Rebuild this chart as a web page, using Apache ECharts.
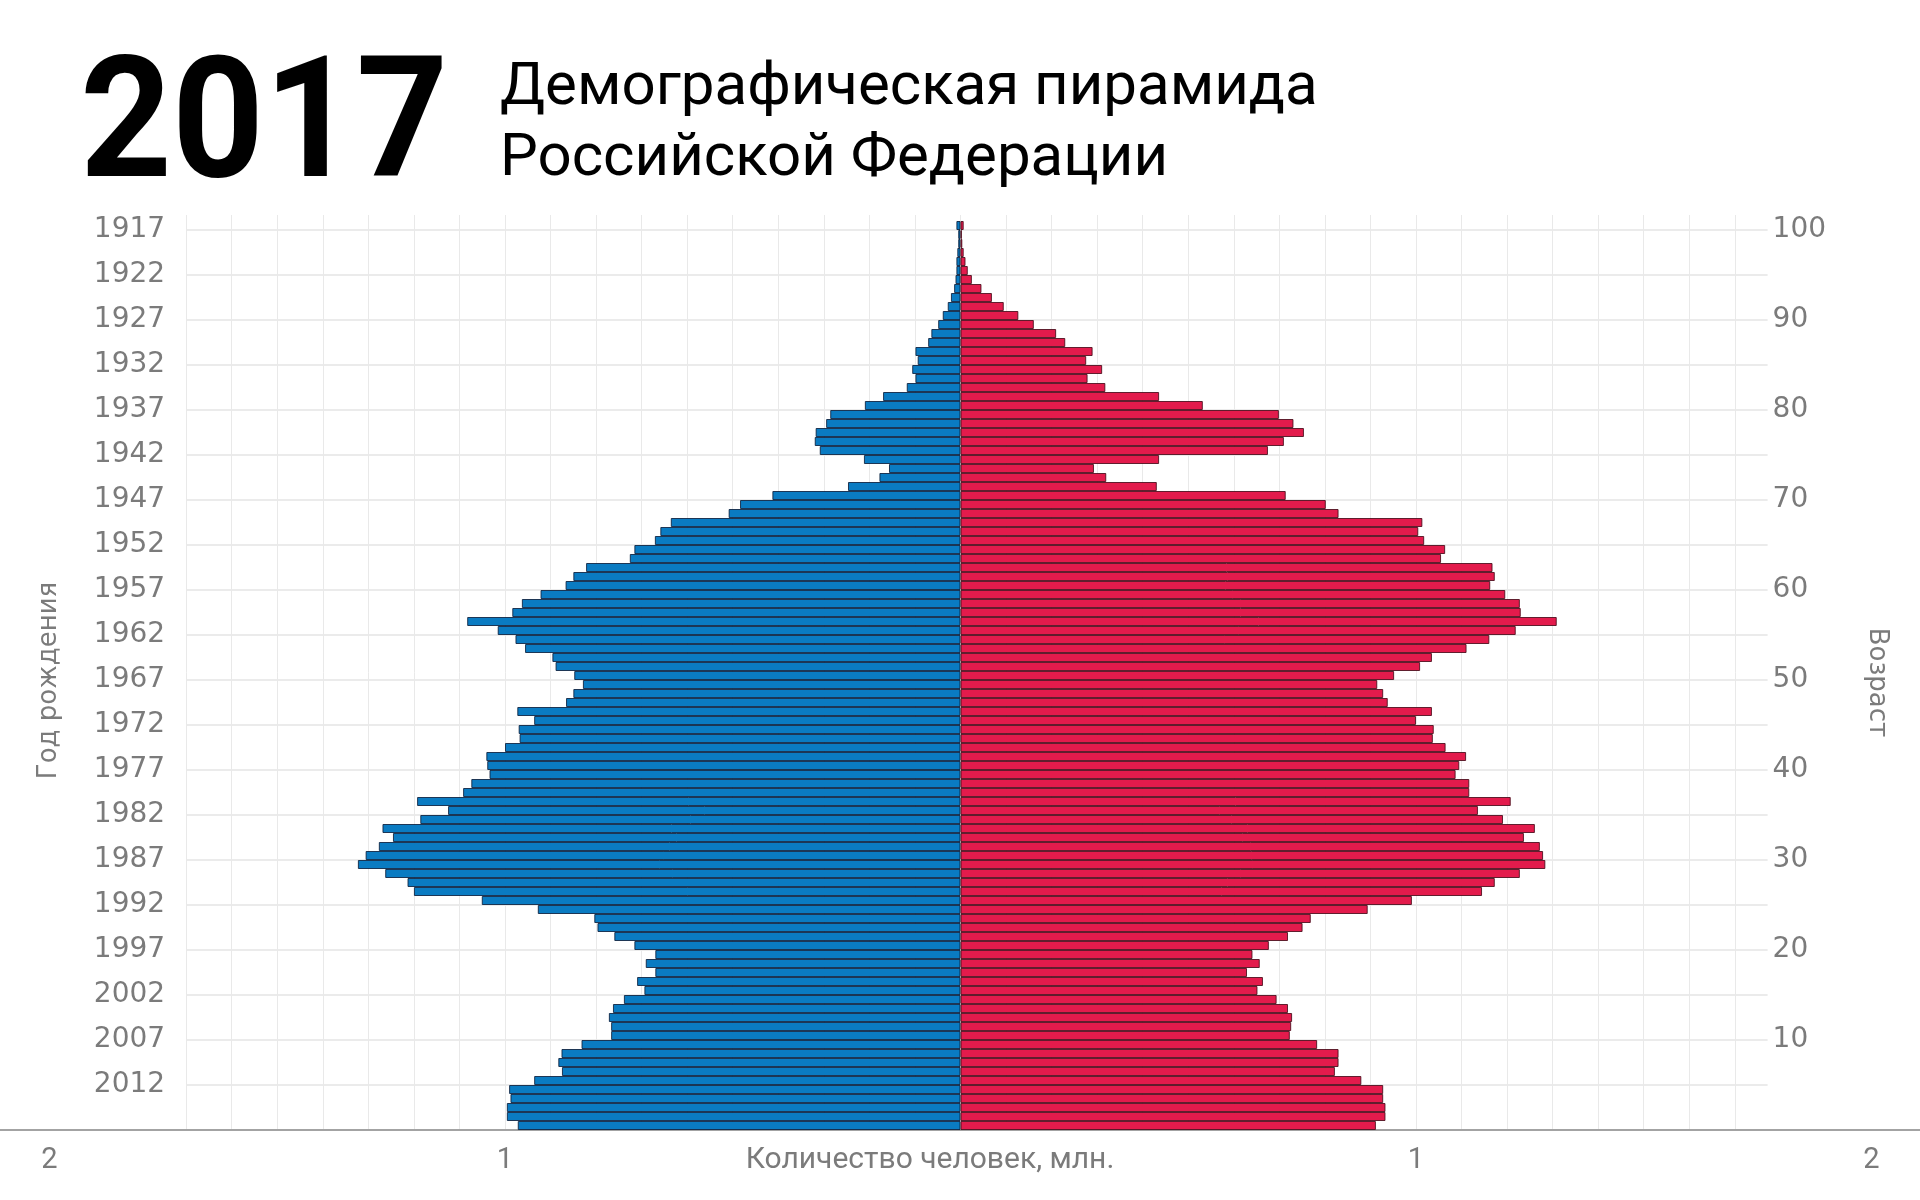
<!DOCTYPE html>
<html>
<head>
<meta charset="utf-8">
<script src="https://cdn.jsdelivr.net/npm/echarts@6/dist/echarts.min.js"></script>
<style>
  html, body { margin: 0; padding: 0; background: #ffffff; }
  #chart { width: 1920px; height: 1200px; }
</style>
</head>
<body>
<div id="chart"></div>
<script>
// Ages 0..100 (bottom to top); birth year = 2017 - age
const ages = Array.from({length: 101}, (_, i) => i);

// Men, million people, by age 0..100
const male = [
  0.972, 0.996, 0.996, 0.988, 0.991, 0.936, 0.875, 0.883, 0.876, 0.832,
  0.767, 0.767, 0.772, 0.763, 0.739, 0.694, 0.710, 0.670, 0.691, 0.670,
  0.716, 0.760, 0.797, 0.804, 0.928, 1.051, 1.200, 1.214, 1.263, 1.323,
  1.306, 1.277, 1.246, 1.269, 1.186, 1.125, 1.193, 1.092, 1.074, 1.034,
  1.039, 1.041, 1.000, 0.968, 0.970, 0.936, 0.973, 0.866, 0.850, 0.829,
  0.848, 0.889, 0.896, 0.956, 0.977, 1.016, 1.083, 0.984, 0.963, 0.922,
  0.867, 0.850, 0.822, 0.726, 0.716, 0.671, 0.659, 0.636, 0.509, 0.484,
  0.413, 0.247, 0.178, 0.157, 0.212, 0.309, 0.320, 0.318, 0.295, 0.286,
  0.210, 0.170, 0.118, 0.099, 0.106, 0.094, 0.099, 0.071, 0.064, 0.049,
  0.039, 0.028, 0.021, 0.014, 0.011, 0.009, 0.009, 0.007, 0.005, 0.005,
  0.009
];

// Women, million people, by age 0..100
const female = [
  0.912, 0.933, 0.933, 0.928, 0.928, 0.880, 0.822, 0.830, 0.830, 0.783,
  0.723, 0.726, 0.728, 0.719, 0.694, 0.652, 0.664, 0.629, 0.657, 0.641,
  0.677, 0.719, 0.751, 0.769, 0.894, 0.991, 1.145, 1.173, 1.228, 1.284,
  1.279, 1.272, 1.237, 1.261, 1.191, 1.136, 1.208, 1.117, 1.117, 1.087,
  1.095, 1.110, 1.065, 1.037, 1.039, 1.000, 1.035, 0.938, 0.928, 0.915,
  0.952, 1.009, 1.035, 1.111, 1.161, 1.219, 1.309, 1.230, 1.228, 1.196,
  1.163, 1.173, 1.168, 1.055, 1.064, 1.018, 1.005, 1.014, 0.830, 0.802,
  0.714, 0.431, 0.320, 0.293, 0.436, 0.675, 0.710, 0.754, 0.731, 0.699,
  0.532, 0.436, 0.318, 0.279, 0.311, 0.276, 0.290, 0.230, 0.210, 0.161,
  0.127, 0.095, 0.069, 0.046, 0.025, 0.016, 0.011, 0.007, 0.004, 0.003,
  0.007
];

const xTickValues = [-2, -1, 1, 2];
const titleYear = '2017';
const titleText = 'Демографическая пирамида\nРоссийской Федерации';
const surveyYear = 2017;

const chart = echarts.init(document.getElementById('chart'), null, {renderer: 'canvas'});
const gray = '#7b7b7b';

chart.setOption({
  backgroundColor: '#ffffff',
  animation: false,
  title: [
    {
      text: titleText, left: 495, top: 48,
      textStyle: {fontFamily: 'Roboto', fontWeight: 'normal', fontSize: 60, lineHeight: 71, color: '#000'}
    }
  ],
  graphic: [
    {
      type: 'text', x: 80, y: 134, scaleX: 0.955, scaleY: 1,
      style: {
        text: titleYear, fontFamily: 'Roboto', fontWeight: 'bold', fontSize: 168,
        fill: '#000', verticalAlign: 'middle', align: 'left'
      }
    }
  ],
  grid: [
    {left: 0, right: 0, top: 221, bottom: 70, containLabel: false, outerBoundsMode: 'none'},
    {left: 186.1, right: 152.4, top: 215, bottom: 70, containLabel: false, outerBoundsMode: 'none'}
  ],
  xAxis: [
    {
      gridIndex: 0, type: 'value', min: -2.1087, max: 2.1065,
      axisLine: {show: true, lineStyle: {color: '#a3a3a3', width: 2}},
      axisTick: {show: false},
      splitLine: {show: false},
      axisLabel: {
        customValues: xTickValues, margin: 16,
        fontFamily: 'Roboto', fontSize: 29, color: gray,
        formatter: v => String(Math.abs(v))
      },
      name: 'Количество человек, млн.', nameLocation: 'middle', nameGap: 15,
      nameMoveOverlap: false,
      nameTextStyle: {fontFamily: 'Roboto', fontSize: 30, color: gray, padding: [0, 60, 0, 0]}
    },
    {
      gridIndex: 1, type: 'value', min: -1.7, max: 1.772, interval: 0.1,
      axisLine: {show: false}, axisTick: {show: false}, axisLabel: {show: false},
      splitLine: {show: true, showMaxLine: false, lineStyle: {color: '#e9e9e9', width: 1}}
    }
  ],
  yAxis: [
    {
      gridIndex: 0, type: 'category', data: ages, boundaryGap: true,
      axisLine: {show: false}, axisTick: {show: false}, axisLabel: {show: false}, splitLine: {show: false}
    },
    {
      gridIndex: 1, type: 'value', position: 'left', min: 0, max: 101.667, interval: 5,
      axisLine: {show: false}, axisTick: {show: false},
      axisLabel: {
        showMinLabel: false, showMaxLabel: false, margin: 21, padding: [5, 0, 0, 0],
        fontFamily: 'DejaVu Sans', fontSize: 28, color: gray,
        formatter: v => (v <= 0 || v > 100) ? '' : String(surveyYear - v)
      },
      splitLine: {show: true, showMinLine: false, showMaxLine: false, lineStyle: {color: '#ebebeb', width: 2}},
      name: 'Год рождения', nameLocation: 'middle', nameGap: 124, nameMoveOverlap: false,
      nameTextStyle: {fontFamily: 'DejaVu Sans', fontSize: 26, color: gray, padding: [0, 16, 0, 0]}
    },
    {
      gridIndex: 1, type: 'value', position: 'right', min: 0, max: 101.667, interval: 10,
      axisLine: {show: false}, axisTick: {show: false},
      axisLabel: {
        showMinLabel: false, showMaxLabel: false, margin: 5, padding: [5, 0, 0, 0],
        fontFamily: 'DejaVu Sans', fontSize: 28, color: gray,
        formatter: v => (v <= 0 || v > 100) ? '' : String(v)
      },
      splitLine: {show: false},
      name: 'Возраст', nameLocation: 'middle', nameGap: 96, nameRotate: -90, nameMoveOverlap: false,
      nameTextStyle: {fontFamily: 'DejaVu Sans', fontSize: 26, color: gray, padding: [0, 0, 0, 20]}
    }
  ],
  series: [
    {
      name: 'Мужчины', type: 'bar', xAxisIndex: 0, yAxisIndex: 0,
      data: male.map(v => -v),
      barCategoryGap: '0%', barGap: '-100%',
      itemStyle: {color: '#0a7bc2', borderColor: 'rgba(10,30,60,0.85)', borderWidth: 1}
    },
    {
      name: 'Женщины', type: 'bar', xAxisIndex: 0, yAxisIndex: 0,
      data: female,
      barCategoryGap: '0%', barGap: '-100%',
      itemStyle: {color: '#e31b4c', borderColor: 'rgba(70,10,25,0.85)', borderWidth: 1}
    }
  ]
});
</script>
</body>
</html>
